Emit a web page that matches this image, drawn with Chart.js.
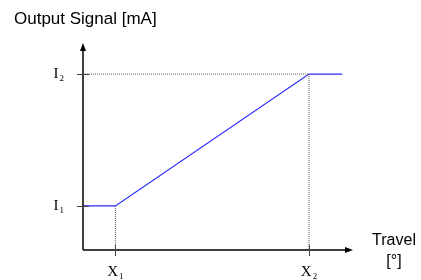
<!DOCTYPE html>
<html>
<head>
<meta charset="utf-8">
<script src="https://cdn.jsdelivr.net/npm/chart.js@4"></script>
<style>
  body { margin: 0; background: #fff; }
  #wrap { width: 421px; height: 280px; }
</style>
</head>
<body>
<div id="wrap"><canvas id="chart" width="421" height="280"></canvas></div>
<script>
// characteristic curve: travel -> output signal (arbitrary units)
const travel = [0, 1.2, 8.37, 9.6]
const signal = [2.13, 2.13, 8.5, 8.5]

// tick positions and their labels (letter + subscript)
const xTickValues = [1.2, 8.37]
const xTickNames = ['X', 'X']
const xTickSubs = ['1', '2']
const yTickValues = [2.13, 8.5]
const yTickNames = ['I', 'I']
const yTickSubs = ['1', '2']

const titleText = 'Output Signal [mA]'
const xAxisText = ['Travel', '[°]']

const curve = travel.map((x, i) => ({ x: x, y: signal[i] }))

// dotted guides from the axes to the knee points
const guideTop = [
    { x: 0, y: yTickValues[1] },
    { x: xTickValues[1], y: yTickValues[1] },
    { x: xTickValues[1], y: 0 }
]
const guideLow = [
    { x: xTickValues[0], y: yTickValues[0] },
    { x: xTickValues[0], y: 0 }
]

function labelWithSub(ctx, name, sub, x, y, align) {
    ctx.font = '15px "Liberation Serif", "Times New Roman", serif'
    let w1 = ctx.measureText(name).width
    ctx.font = '9px "Liberation Serif", "Times New Roman", serif'
    let w2 = ctx.measureText(sub).width
    let start = align === 'right' ? x - w1 - w2 - 1 : x - (w1 + w2 + 1) / 2
    ctx.textAlign = 'left'
    ctx.textBaseline = 'alphabetic'
    ctx.font = '15px "Liberation Serif", "Times New Roman", serif'
    ctx.fillText(name, start, y)
    ctx.font = '9px "Liberation Serif", "Times New Roman", serif'
    ctx.fillText(sub, start + w1 + 1, y + 3)
}

const axesPlugin = {
    id: 'arrowAxes',
    afterDatasetsDraw(chart) {
        let ctx = chart.ctx
        let area = chart.chartArea
        let xs = chart.scales.x
        let ys = chart.scales.y
        let x0 = xs.getPixelForValue(0)
        let y0 = ys.getPixelForValue(0)

        ctx.save()
        ctx.strokeStyle = '#000'
        ctx.fillStyle = '#000'
        ctx.lineWidth = 1.5

        // y axis with arrow
        ctx.beginPath()
        ctx.moveTo(x0, y0)
        ctx.lineTo(x0, area.top + 4)
        ctx.stroke()
        ctx.beginPath()
        ctx.moveTo(x0, area.top)
        ctx.lineTo(x0 - 3, area.top + 8)
        ctx.lineTo(x0 + 3, area.top + 8)
        ctx.closePath()
        ctx.fill()

        // x axis with arrow
        ctx.beginPath()
        ctx.moveTo(x0, y0)
        ctx.lineTo(area.right - 4, y0)
        ctx.stroke()
        ctx.beginPath()
        ctx.moveTo(area.right, y0)
        ctx.lineTo(area.right - 8, y0 - 3)
        ctx.lineTo(area.right - 8, y0 + 3)
        ctx.closePath()
        ctx.fill()

        // tick marks crossing the axes
        ctx.strokeStyle = '#444'
        ctx.lineWidth = 1
        xTickValues.forEach(v => {
            let px = Math.round(xs.getPixelForValue(v)) + 0.5
            ctx.beginPath()
            ctx.moveTo(px, y0 - 5)
            ctx.lineTo(px, y0 + 6)
            ctx.stroke()
        })
        yTickValues.forEach(v => {
            let py = Math.round(ys.getPixelForValue(v)) + 0.5
            ctx.beginPath()
            ctx.moveTo(x0 - 6, py)
            ctx.lineTo(x0 + 6, py)
            ctx.stroke()
        })

        // tick labels
        ctx.fillStyle = '#000'
        xTickValues.forEach((v, i) => {
            labelWithSub(ctx, xTickNames[i], xTickSubs[i], xs.getPixelForValue(v), y0 + 26, 'center')
        })
        yTickValues.forEach((v, i) => {
            labelWithSub(ctx, yTickNames[i], yTickSubs[i], x0 - 19, ys.getPixelForValue(v) + 4, 'right')
        })

        // titles
        ctx.font = '17px "Liberation Sans", Arial, sans-serif'
        ctx.textAlign = 'left'
        ctx.textBaseline = 'alphabetic'
        ctx.fillText(titleText, 14, 24)
        ctx.font = '16px "Liberation Sans", Arial, sans-serif'
        ctx.textAlign = 'center'
        ctx.fillText(xAxisText[0], 394, 245)
        ctx.fillText(xAxisText[1], 394, 266)
        ctx.restore()
    }
}

new Chart(document.getElementById('chart'), {
    type: 'line',
    data: {
        datasets: [
            {
                data: guideTop,
                borderColor: '#555',
                borderWidth: 1,
                borderDash: [1, 1],
                pointRadius: 0,
                tension: 0
            },
            {
                data: guideLow,
                borderColor: '#555',
                borderWidth: 1,
                borderDash: [1, 1],
                pointRadius: 0,
                tension: 0
            },
            {
                data: curve,
                borderColor: 'rgb(40, 40, 255)',
                borderWidth: 1.2,
                pointRadius: 0,
                tension: 0
            }
        ]
    },
    options: {
        responsive: false,
        animation: false,
        layout: {
            padding: { left: 83, right: 68, top: 43, bottom: 30 }
        },
        scales: {
            x: { type: 'linear', min: 0, max: 10, display: false },
            y: { type: 'linear', min: 0, max: 10, display: false }
        },
        plugins: {
            legend: { display: false },
            tooltip: { enabled: false }
        }
    },
    plugins: [axesPlugin]
})
</script>
</body>
</html>
